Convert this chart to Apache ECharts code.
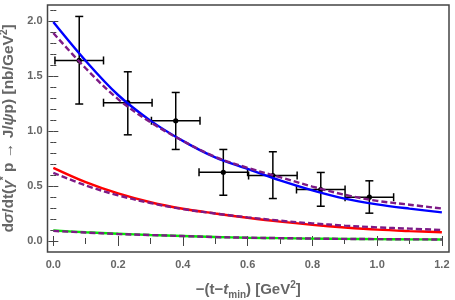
<!DOCTYPE html>
<html><head><meta charset="utf-8">
<script src="https://cdn.jsdelivr.net/npm/echarts@6/dist/echarts.min.js"></script>
<style>html,body{margin:0;padding:0;background:#fff}#c{width:455px;height:300px}</style>
</head><body><div id="c"></div>
<script>
// sample positions of the curves
const xs = [0, 0.1, 0.2, 0.3, 0.4, 0.5, 0.6, 0.7, 0.8, 0.9, 1.0, 1.1, 1.2];
const blueTotal   = [1.99, 1.637, 1.327, 1.094, 0.91, 0.76, 0.655, 0.55, 0.46, 0.385, 0.333, 0.294, 0.26];
const purpleTotal = [1.89, 1.57, 1.29, 1.08, 0.91, 0.765, 0.665, 0.58, 0.495, 0.42, 0.365, 0.33, 0.295];
const redMid      = [0.665, 0.535, 0.432, 0.352, 0.293, 0.25, 0.211, 0.176, 0.147, 0.123, 0.103, 0.09, 0.08];
const purpleMid   = [0.62, 0.505, 0.415, 0.345, 0.29, 0.25, 0.215, 0.185, 0.16, 0.14, 0.124, 0.112, 0.1];
const greenLow    = [0.095, 0.079, 0.066, 0.055, 0.046, 0.037, 0.03, 0.026, 0.022, 0.019, 0.017, 0.015, 0.014];
const purpleLow   = [0.092, 0.077, 0.064, 0.054, 0.045, 0.036, 0.03, 0.026, 0.022, 0.019, 0.017, 0.015, 0.014];
// data points
const ptX    = [0.08, 0.23, 0.378, 0.525, 0.678, 0.826, 0.976];
const ptY    = [1.641, 1.257, 1.093, 0.625, 0.595, 0.468, 0.398];
const ptYlo  = [1.245, 0.965, 0.832, 0.416, 0.386, 0.316, 0.253];
const ptYhi  = [2.041, 1.538, 1.35, 0.832, 0.811, 0.623, 0.547];
const ptXerr = [0.075, 0.075, 0.075, 0.075, 0.075, 0.075, 0.075];
// ticks
const xMajor = [0, 0.2, 0.4, 0.6, 0.8, 1.0, 1.2];
const xMinor = [0.1, 0.3, 0.5, 0.7, 0.9, 1.1];
const yMajor = [0, 0.5, 1.0, 1.5, 2.0];
const yMinor = [0.1, 0.2, 0.3, 0.4, 0.6, 0.7, 0.8, 0.9, 1.1, 1.2, 1.3, 1.4, 1.6, 1.7, 1.8, 1.9, 2.1];

const FONT = 'Liberation Sans';
const TXT = '#666';
const FRAME = '#444';
const XMIN = -0.018, XMAX = 1.222, YMIN = -0.1, YMAX = 2.145;

function pairs(a) { return xs.map((x, i) => [x, a[i]]); }

function xAx(pos, ticks, len, labels) {
  return {
    type: 'value', position: pos, min: XMIN, max: XMAX,
    axisLine: { show: false }, splitLine: { show: false },
    axisTick: { show: true, inside: true, length: len, customValues: ticks, lineStyle: { color: FRAME, width: 1 } },
    axisLabel: labels ? { show: true, customValues: ticks, margin: 7, color: TXT, fontWeight: 'bold', fontSize: 11, fontFamily: FONT,
      formatter: v => Number(v).toFixed(1) } : { show: false }
  };
}
function yAx(pos, ticks, len, labels) {
  return {
    type: 'value', position: pos, min: YMIN, max: YMAX,
    axisLine: { show: false }, splitLine: { show: false },
    axisTick: { show: true, inside: true, length: len, customValues: ticks, lineStyle: { color: FRAME, width: 1 } },
    axisLabel: labels ? { show: true, customValues: ticks, margin: 5, color: TXT, fontWeight: 'bold', fontSize: 11, fontFamily: FONT,
      formatter: v => Number(v).toFixed(1) } : { show: false }
  };
}

const xAxes = [xAx('bottom', xMajor, 5, true), xAx('bottom', xMinor, 3, false), xAx('top', xMajor, 5, false), xAx('top', xMinor, 3, false)];
const yAxes = [yAx('left', yMajor, 5, true), yAx('left', yMinor, 3, false), yAx('right', yMajor, 5, false), yAx('right', yMinor, 3, false)];

const base = { fontFamily: FONT, fontWeight: 'bold', color: TXT };
xAxes[0].name = '{a|−(t−}{i|t}{s|min}{a|) [GeV}{p|2}{a|]}';
xAxes[0].nameLocation = 'middle';
xAxes[0].nameGap = 28;
xAxes[0].nameTextStyle = Object.assign({}, base, { fontSize: 15, rich: {
  a: Object.assign({}, base, { fontSize: 15, lineHeight: 20 }),
  i: Object.assign({}, base, { fontSize: 15, fontStyle: 'italic', lineHeight: 20 }),
  s: Object.assign({}, base, { fontSize: 10, lineHeight: 20, verticalAlign: 'bottom' }),
  p: Object.assign({}, base, { fontSize: 10, lineHeight: 20, verticalAlign: 'top' })
}});
yAxes[0].name = '{a|d}{i|σ}{a|/dt(}{i|γ}{p|*}{a| p → J/}{i|ψ}{a|p) [nb/GeV}{p|2}{a|]}';
yAxes[0].nameLocation = 'middle';
yAxes[0].nameRotate = 90;
yAxes[0].nameGap = 26;
yAxes[0].nameTextStyle = Object.assign({}, base, { fontSize: 15.5, rich: {
  a: Object.assign({}, base, { fontSize: 15.5, lineHeight: 19 }),
  i: Object.assign({}, base, { fontSize: 15.5, fontStyle: 'italic', lineHeight: 19 }),
  p: Object.assign({}, base, { fontSize: 10, lineHeight: 19, verticalAlign: 'top' })
}});

function line(data, color, dashed) {
  return {
    type: 'line', data: pairs(data), showSymbol: false, symbol: 'none', smooth: 0.35,
    xAxisIndex: 0, yAxisIndex: 0, silent: true, animation: false,
    lineStyle: { color: color, width: 2.4, type: dashed ? [6, 3] : 'solid' }
  };
}
const PURPLE = '#7d1a86';

const errData = ptX.map((x, i) => [x, ptY[i], x - ptXerr[i], x + ptXerr[i], ptYlo[i], ptYhi[i]]);

const option = {
  animation: false,
  grid: { left: 47.5, right: 6, top: 5, bottom: 48, show: true, borderColor: FRAME, borderWidth: 1.5, backgroundColor: '#fff',
          containLabel: false, outerBoundsMode: 'none' },
  xAxis: xAxes,
  yAxis: yAxes,
  series: [
    line(blueTotal, '#0000ff', false),
    line(purpleTotal, PURPLE, true),
    line(redMid, '#ff0000', false),
    line(purpleMid, PURPLE, true),
    line(greenLow, '#00ee00', false),
    line(purpleLow, PURPLE, true),
    {
      type: 'custom', data: errData, xAxisIndex: 0, yAxisIndex: 0, silent: true,
      renderItem: function (params, api) {
        const c = api.coord([api.value(0), api.value(1)]);
        const l = api.coord([api.value(2), api.value(1)]);
        const r = api.coord([api.value(3), api.value(1)]);
        const lo = api.coord([api.value(0), api.value(4)]);
        const hi = api.coord([api.value(0), api.value(5)]);
        const cap = 4;
        const st = { stroke: '#000', lineWidth: 1.5 };
        return { type: 'group', children: [
          { type: 'line', shape: { x1: l[0], y1: l[1], x2: r[0], y2: r[1] }, style: st },
          { type: 'line', shape: { x1: l[0], y1: l[1] - cap, x2: l[0], y2: l[1] + cap }, style: st },
          { type: 'line', shape: { x1: r[0], y1: r[1] - cap, x2: r[0], y2: r[1] + cap }, style: st },
          { type: 'line', shape: { x1: lo[0], y1: lo[1], x2: hi[0], y2: hi[1] }, style: st },
          { type: 'line', shape: { x1: lo[0] - cap, y1: lo[1], x2: lo[0] + cap, y2: lo[1] }, style: st },
          { type: 'line', shape: { x1: hi[0] - cap, y1: hi[1], x2: hi[0] + cap, y2: hi[1] }, style: st },
          { type: 'circle', shape: { cx: c[0], cy: c[1], r: 2.6 }, style: { fill: '#000' } }
        ]};
      }
    }
  ]
};
const chart = echarts.init(document.getElementById('c'), null, { renderer: 'canvas' });
chart.setOption(option);
</script></body></html>
